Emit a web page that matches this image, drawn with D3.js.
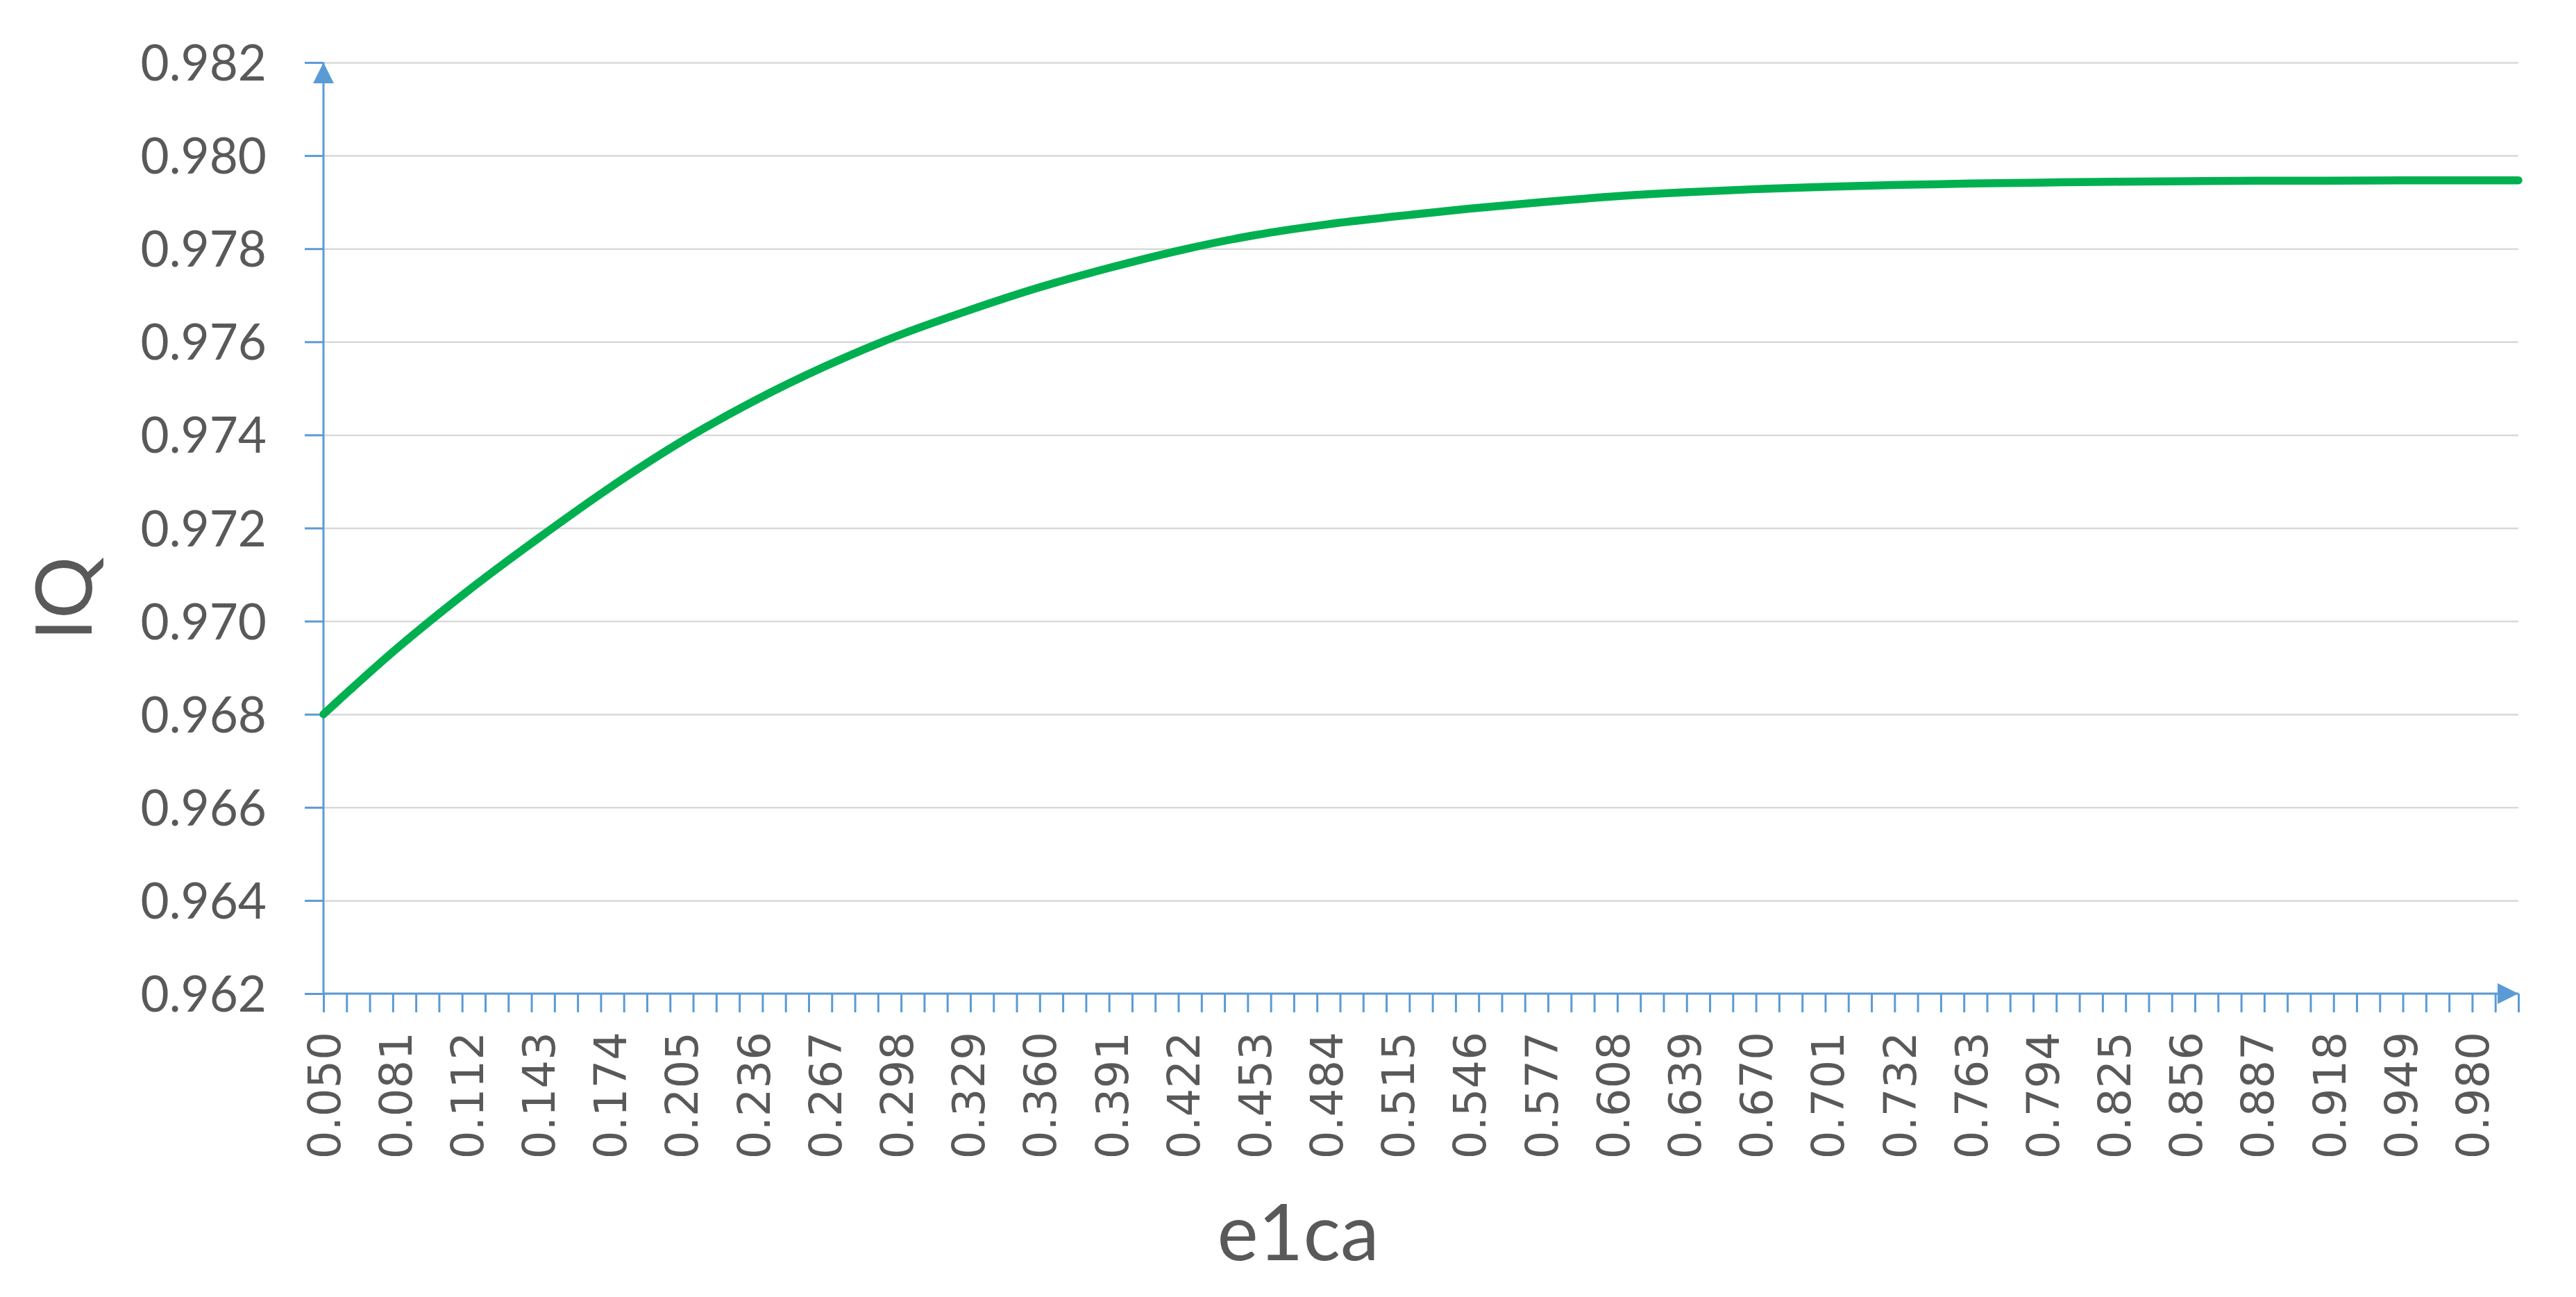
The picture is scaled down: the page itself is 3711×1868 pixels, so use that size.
<!DOCTYPE html>
<html>
<head>
<meta charset="utf-8">
<title>IQ vs e1ca</title>
<script src="https://d3js.org/d3.v7.min.js"></script>
<style>
  body { margin: 0; background: #ffffff; }
  svg { display: block; }
  .ylab text { font-family: Lato, "Open Sans", sans-serif; font-size: 71px; fill: #595959; }
  .xlab text { font-family: "DejaVu Sans", Verdana, sans-serif; font-size: 64px; fill: #595959; }
  .title { font-family: Lato, "Open Sans", sans-serif; font-size: 112px; fill: #595959; }
</style>
</head>
<body>
<svg width="3711" height="1868"></svg>
<script>
// values
var e1caValues = [0.050, 0.081, 0.112, 0.143, 0.174, 0.205, 0.236, 0.267, 0.298, 0.329,
                  0.360, 0.391, 0.422, 0.453, 0.484, 0.515, 0.546, 0.577, 0.608, 0.639,
                  0.670, 0.701, 0.732, 0.763, 0.794, 0.825, 0.856, 0.887, 0.918, 0.949,
                  0.980, 1.000];
var iqValues = [0.96800, 0.96938, 0.97063, 0.97178, 0.97287, 0.97386, 0.97472, 0.97547, 0.97612, 0.97667,
                0.97717, 0.97760, 0.97798, 0.97829, 0.97852, 0.97870, 0.97886, 0.97900, 0.97912, 0.97921,
                0.97928, 0.97933, 0.97937, 0.97940, 0.97942, 0.97944, 0.97945, 0.97946, 0.97946, 0.97947,
                0.97947, 0.97947];
var xTickLabels = ['0.050', '0.081', '0.112', '0.143', '0.174', '0.205', '0.236', '0.267', '0.298', '0.329',
                   '0.360', '0.391', '0.422', '0.453', '0.484', '0.515', '0.546', '0.577', '0.608', '0.639',
                   '0.670', '0.701', '0.732', '0.763', '0.794', '0.825', '0.856', '0.887', '0.918', '0.949',
                   '0.980'];
var yTickLabels = ['0.962', '0.964', '0.966', '0.968', '0.970', '0.972', '0.974', '0.976', '0.978', '0.980', '0.982'];

var plotLeft = 466, plotRight = 3628, plotTop = 90, plotBottom = 1431;
var axisBlue = '#5B9BD5';

var svg = d3.select('svg');

var x = d3.scaleLinear().domain([0.05, 1.0]).range([plotLeft, plotRight]);
var y = d3.scaleLinear().domain([0.962, 0.982]).range([plotBottom, plotTop]);

var data = e1caValues.map(function(d, i) { return { x: d, v: iqValues[i] }; });

// arrow heads
var defs = svg.append('defs');
defs.append('marker')
  .attr('id', 'arrow')
  .attr('markerUnits', 'userSpaceOnUse')
  .attr('viewBox', '0 0 30 30')
  .attr('refX', 30).attr('refY', 15)
  .attr('markerWidth', 30).attr('markerHeight', 30)
  .attr('orient', 'auto')
  .append('path')
  .attr('d', 'M0,0 L30,15 L0,30 Z')
  .attr('fill', axisBlue);

// gridlines
svg.append('g')
  .attr('transform', 'translate(' + plotLeft + ',0)')
  .call(d3.axisLeft(y).tickValues(yTickLabels.map(Number)).tickSize(-(plotRight - plotLeft)).tickFormat(''))
  .call(function(g) {
    g.select('.domain').remove();
    g.selectAll('line').attr('stroke', '#D9D9D9').attr('stroke-width', 2.5);
  });

// y ticks + labels
svg.append('g')
  .attr('class', 'ylab')
  .attr('transform', 'translate(' + plotLeft + ',0)')
  .call(d3.axisLeft(y).tickValues(yTickLabels.map(Number)).tickSize(27).tickPadding(55)
        .tickFormat(function(d, i) { return yTickLabels[i]; }))
  .call(function(g) {
    g.select('.domain').remove();
    g.selectAll('line').attr('stroke', axisBlue).attr('stroke-width', 3);
    g.selectAll('text').attr('dy', '0.36em');
  });

// x minor ticks every 0.01
svg.append('g')
  .attr('transform', 'translate(0,' + plotBottom + ')')
  .call(d3.axisBottom(x).tickValues(d3.range(0, 96).map(function(i) { return 0.05 + i * 0.01; }))
        .tickSize(27).tickFormat(''))
  .call(function(g) {
    g.select('.domain').remove();
    g.selectAll('line').attr('stroke', axisBlue).attr('stroke-width', 3);
  });

// x labels
svg.append('g')
  .attr('class', 'xlab')
  .attr('transform', 'translate(0,' + plotBottom + ')')
  .call(d3.axisBottom(x).tickValues(xTickLabels.map(Number)).tickSize(0)
        .tickFormat(function(d, i) { return xTickLabels[i]; }))
  .call(function(g) {
    g.select('.domain').remove();
    g.selectAll('text')
      .attr('transform', 'rotate(-90)')
      .attr('text-anchor', 'end')
      .attr('x', -55)
      .attr('y', 0)
      .attr('dy', '0.36em');
  });

// axis lines with arrows
svg.append('line')
  .attr('x1', plotLeft).attr('y1', plotBottom).attr('x2', plotRight).attr('y2', plotBottom)
  .attr('stroke', axisBlue).attr('stroke-width', 3)
  .attr('marker-end', 'url(#arrow)');
svg.append('line')
  .attr('x1', plotLeft).attr('y1', plotBottom).attr('x2', plotLeft).attr('y2', plotTop)
  .attr('stroke', axisBlue).attr('stroke-width', 3)
  .attr('marker-end', 'url(#arrow)');

// curve
var line = d3.line()
  .x(function(d) { return x(d.x); })
  .y(function(d) { return y(d.v); })
  .curve(d3.curveMonotoneX);

svg.append('path')
  .datum(data)
  .attr('fill', 'none')
  .attr('stroke', '#00B050')
  .attr('stroke-width', 11.5)
  .attr('stroke-linecap', 'round')
  .attr('d', line);

// axis titles
svg.append('text')
  .attr('class', 'title')
  .attr('text-anchor', 'middle')
  .attr('x', 1870).attr('y', 1815)
  .text('e1ca');

svg.append('text')
  .attr('class', 'title')
  .attr('text-anchor', 'middle')
  .attr('transform', 'translate(132,862) rotate(-90)')
  .text('IQ');
</script>
</body>
</html>
